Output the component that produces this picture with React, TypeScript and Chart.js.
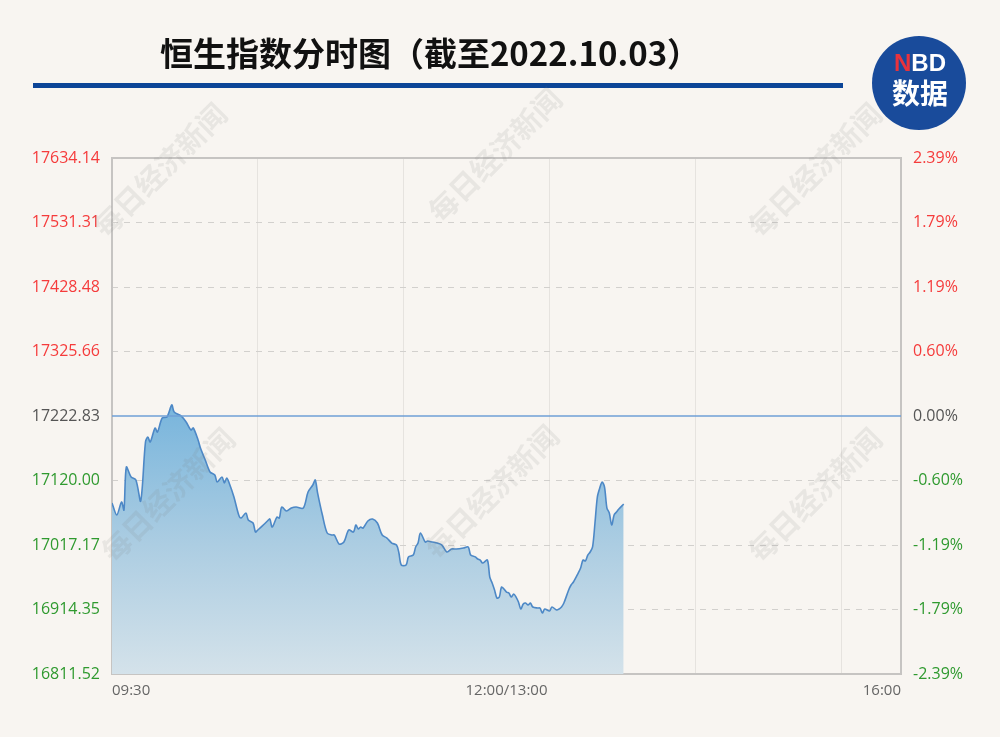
import React, { useEffect, useRef } from 'react';
import { Chart, registerables } from 'chart.js';

Chart.register(...registerables);

const TITLE = '恒生指数分时图（截至2022.10.03）';
const WATERMARK = '每日经济新闻';
const PREV_CLOSE = 17222.83;
const Y_MIN = 16811.52;
const Y_MAX = 17634.14;
const LEFT_TICKS = [16811.52, 16914.35, 17017.17, 17120.0, 17222.83, 17325.66, 17428.48, 17531.31, 17634.14];
const RIGHT_TICK_LABELS = ['-2.39%', '-1.79%', '-1.19%', '-0.60%', '0.00%', '0.60%', '1.19%', '1.79%', '2.39%'];
const X_MAX = 330;
const X_GRID_TICKS = [61, 122, 183, 244, 305];
const X_LABEL_VALUES = [0, 165, 330];
const X_LABEL_TEXTS = ['09:30', '12:00/13:00', '16:00'];

// trading-minute index since 09:30
const MINUTES = [
  0, 2, 4, 5, 6, 8, 10, 12, 14, 15, 16, 18, 19, 21, 23, 25, 26, 29, 31, 33,
  34, 36, 37, 39, 41, 43, 44, 46, 47, 48, 49, 51, 53, 54, 56, 57, 59, 60, 61, 63,
  65, 66, 67, 69, 70, 71, 73, 75, 77, 80, 82, 84, 85, 86, 88, 90, 92, 93, 95, 97,
  99, 101, 102, 103, 104, 105, 107, 109, 111, 113, 115, 117, 119, 120, 121, 123, 124, 126, 127, 128,
  129, 131, 132, 134, 136, 138, 140, 142, 144, 147, 149, 150, 152, 153, 154, 155, 157, 158, 159, 160,
  161, 162, 163, 165, 166, 167, 168, 169, 170, 171, 172, 173, 174, 175, 176, 178, 179, 180, 181, 183,
  184, 186, 187, 188, 189, 191, 192, 193, 195, 196, 197, 198, 199, 200, 201, 202, 203, 204, 205, 206,
  207, 208, 209, 210, 211, 212, 214,
];

const PRICES = [
  17084.1, 17065.0, 17085.7, 17072.9, 17141.5, 17125.6, 17120.8, 17087.3, 17181.4, 17189.3,
  17181.4, 17203.7, 17197.3, 17219.6, 17221.2, 17240.4, 17229.2, 17222.8, 17213.3, 17200.5,
  17203.7, 17184.6, 17171.8, 17152.7, 17133.6, 17128.8, 17117.6, 17125.6, 17116.0, 17124.0,
  17116.0, 17093.7, 17065.0, 17060.2, 17068.2, 17057.0, 17052.2, 17037.9, 17041.1, 17048.0,
  17055.4, 17058.6, 17045.8, 17061.8, 17060.2, 17077.7, 17071.3, 17076.1, 17077.7, 17076.1,
  17101.6, 17112.8, 17120.8, 17100.0, 17065.0, 17036.3, 17033.1, 17033.1, 17018.7, 17021.9,
  17041.1, 17037.9, 17049.0, 17042.7, 17045.8, 17044.2, 17055.4, 17058.6, 17052.2, 17033.1,
  17028.3, 17020.3, 17017.1, 17004.4, 16985.3, 16985.3, 16998.0, 17001.2, 17014.0, 17020.3,
  17036.3, 17021.9, 17023.5, 17021.9, 17020.3, 17017.1, 17006.0, 17010.8, 17010.8, 17012.4,
  17014.0, 17001.2, 16998.0, 16994.8, 16993.2, 16988.4, 16993.2, 16966.1, 16956.6, 16945.4,
  16932.6, 16934.2, 16950.2, 16942.2, 16940.6, 16934.2, 16939.0, 16934.2, 16926.3, 16915.1,
  16923.1, 16924.7, 16921.5, 16924.7, 16918.3, 16916.7, 16916.7, 16908.7, 16915.1, 16911.9,
  16918.3, 16913.5, 16915.1, 16918.3, 16924.7, 16945.4, 16953.4, 16958.2, 16972.5, 16980.5,
  16993.2, 16991.6, 17001.2, 17006.0, 17014.0, 17052.2, 17093.7, 17108.0, 17117.6, 17109.6,
  17076.1, 17068.2, 17049.0, 17065.0, 17069.8, 17074.5, 17082.5,
];

const BG = '#f8f5f1';
const RED = '#f53b3b';
const GREEN = '#2f9a2f';
const GRAY = '#555555';
const FONT = '"Open Sans", "Noto Sans", sans-serif';

const decorPlugin = {
  id: 'decor',
  beforeDraw(chart: any) {
    const c = chart.ctx;
    c.save();
    c.fillStyle = BG;
    c.fillRect(0, 0, chart.width, chart.height);
    // title
    c.fillStyle = '#111';
    c.font = 'bold 33px "Noto Sans CJK SC", sans-serif';
    c.textAlign = 'center';
    c.textBaseline = 'middle';
    c.fillText(TITLE, 430, 53);
    // blue bar
    c.fillStyle = '#0c4597';
    c.fillRect(33, 83, 810, 5);
    // logo
    c.beginPath();
    c.arc(919, 83, 47, 0, Math.PI * 2);
    c.fillStyle = '#194b9b';
    c.fill();
    c.font = 'bold 24px "Liberation Sans", Arial, sans-serif';
    c.textAlign = 'left';
    const wN = c.measureText('N').width;
    const wBD = c.measureText('BD').width;
    const sx = 920 - (wN + wBD) / 2;
    c.fillStyle = '#e8323c';
    c.fillText('N', sx, 64);
    c.fillStyle = '#ffffff';
    c.fillText('BD', sx + wN, 64);
    c.font = 'bold 28px "Noto Sans CJK SC", sans-serif';
    c.textAlign = 'center';
    c.fillText('数据', 920, 93);
    c.restore();
  },
  beforeDatasetsDraw(chart: any) {
    const c = chart.ctx;
    const a = chart.chartArea;
    c.save();
    c.strokeStyle = '#c6c4c2';
    c.lineWidth = 2;
    c.strokeRect(a.left, a.top, a.right - a.left, a.bottom - a.top);
    c.restore();
  },
  afterDatasetsDraw(chart: any) {
    const c = chart.ctx;
    const spots = [
      [160, 170], [495, 155], [815, 170],
      [168, 495], [492, 492], [815, 495],
    ];
    c.save();
    c.fillStyle = 'rgba(120,120,120,0.12)';
    c.font = 'bold 29px "Noto Sans CJK SC", serif';
    c.textAlign = 'center';
    c.textBaseline = 'middle';
    for (const [x, y] of spots) {
      c.save();
      c.translate(x, y);
      c.rotate(-Math.PI / 4);
      c.fillText(WATERMARK, 0, 0);
      c.restore();
    }
    c.restore();
  },
};

export default function App() {
  const ref = useRef<HTMLCanvasElement | null>(null);

  useEffect(() => {
    document.body.style.background = BG;
    const canvas = ref.current;
    if (!canvas) return;

    const priceData = MINUTES.map((m, i) => ({ x: m, y: PRICES[i] }));
    const prevData = [
      { x: 0, y: PREV_CLOSE },
      { x: X_MAX, y: PREV_CLOSE },
    ];

    const tickColor = (ctx: any) => (ctx.index > 4 ? RED : ctx.index === 4 ? GRAY : GREEN);

    const chart = new Chart(canvas, {
      type: 'line',
      data: {
        datasets: [
          {
            data: priceData,
            borderColor: '#4d88c6',
            borderWidth: 1.6,
            pointRadius: 0,
            tension: 0.3,
            fill: 'start',
            order: 1,
            backgroundColor: (ctx: any) => {
              const { chart: ch } = ctx;
              const area = ch.chartArea;
              if (!area) return 'rgba(140,190,220,1)';
              const g = ch.ctx.createLinearGradient(0, area.top, 0, area.bottom);
              g.addColorStop(0, 'rgb(88,160,212)');
              g.addColorStop(0.47, 'rgb(118,180,220)');
              g.addColorStop(0.75, 'rgb(172,205,226)');
              g.addColorStop(1, 'rgb(212,226,234)');
              return g;
            },
          },
          {
            data: prevData,
            borderColor: '#6f9fd6',
            borderWidth: 1.6,
            pointRadius: 0,
            fill: false,
            order: 0,
            yAxisID: 'y',
          },
        ],
      },
      options: {
        responsive: false,
        animation: false,
        layout: { padding: { left: 0, right: 0, top: 158, bottom: 33 } },
        plugins: { legend: { display: false }, tooltip: { enabled: false } },
        scales: {
          x: {
            type: 'linear',
            min: 0,
            max: X_MAX,
            afterBuildTicks: (scale: any) => {
              const vals = [0, ...X_GRID_TICKS, ...X_LABEL_VALUES.slice(1)].sort((a, b) => a - b);
              scale.ticks = vals.map((v) => ({ value: v }));
            },
            afterFit: (scale: any) => {
              scale.height = 30;
            },
            grid: {
              drawTicks: false,
              lineWidth: 1,
              color: (ctx: any) =>
                ctx.tick && X_GRID_TICKS.includes(ctx.tick.value) ? '#e6e3df' : 'rgba(0,0,0,0)',
            },
            border: { display: false },
            ticks: {
              autoSkip: false,
              maxRotation: 0,
              align: 'inner',
              padding: 8,
              color: '#666',
              font: { family: FONT, size: 15 },
              callback: (v: any) => {
                const k = X_LABEL_VALUES.indexOf(Number(v));
                return k >= 0 ? X_LABEL_TEXTS[k] : '';
              },
            },
          },
          y: {
            type: 'linear',
            position: 'left',
            min: Y_MIN,
            max: Y_MAX,
            afterBuildTicks: (scale: any) => {
              scale.ticks = LEFT_TICKS.map((v) => ({ value: v }));
            },
            afterFit: (scale: any) => {
              scale.width = 112;
            },
            grid: {
              drawTicks: false,
              lineWidth: 1,
              color: (ctx: any) =>
                ctx.index === 0 || ctx.index === 4 || ctx.index === 8 ? 'rgba(0,0,0,0)' : '#d2d0cd',
            },
            border: { display: false, dash: [6, 6] },
            ticks: {
              padding: 12,
              color: tickColor,
              font: { family: FONT, size: 16 },
              callback: (_v: any, i: number) => LEFT_TICKS[i].toFixed(2),
            },
          },
          y2: {
            type: 'linear',
            position: 'right',
            min: Y_MIN,
            max: Y_MAX,
            afterBuildTicks: (scale: any) => {
              scale.ticks = LEFT_TICKS.map((v) => ({ value: v }));
            },
            afterFit: (scale: any) => {
              scale.width = 99;
            },
            grid: { display: false, drawTicks: false },
            border: { display: false },
            ticks: {
              padding: 12,
              color: tickColor,
              font: { family: FONT, size: 16 },
              callback: (_v: any, i: number) => RIGHT_TICK_LABELS[i],
            },
          },
        },
      },
      plugins: [decorPlugin],
    } as any);

    return () => chart.destroy();
  }, []);

  return (
    <div style={{ position: 'fixed', left: 0, top: 0, width: 1000, height: 737, background: BG }}>
      <canvas ref={ref} width={1000} height={737} style={{ display: 'block' }} />
    </div>
  );
}
